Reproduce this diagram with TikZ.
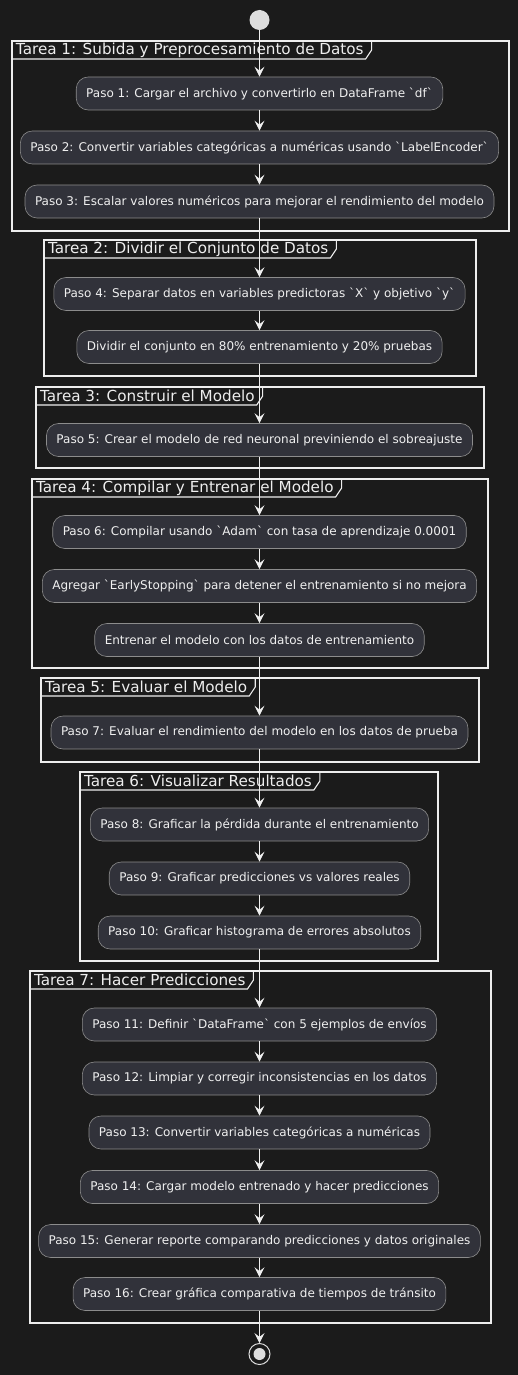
\documentclass[tikz,border=0pt]{standalone}
\usepackage{fontspec}
\setmainfont{DejaVu Sans}
\usetikzlibrary{arrows.meta,calc}
\definecolor{bgdark}{HTML}{1B1B1B}
\definecolor{boxfill}{HTML}{31323A}
\definecolor{boxline}{HTML}{8C8C8C}
\definecolor{txtlight}{HTML}{F0F0F0}
\definecolor{framewhite}{HTML}{EEEEEE}
\definecolor{dotgray}{HTML}{DDDDDD}
\newcommand{\bqt}{\textasciigrave}
\begin{document}
\begin{tikzpicture}[
    x=1pt, y=-1pt,
    font=\fontsize{12}{14}\selectfont,
    frame/.style={draw=framewhite, line width=1.3pt, inner sep=0pt, outer sep=0pt},
    tarea/.style={anchor=north west, text=framewhite, font=\fontsize{15.2}{17}\selectfont, inner xsep=4pt, inner ysep=0pt, minimum height=18pt, outer sep=0pt},
    tab/.style={draw=framewhite, line width=1.1pt},
    paso/.style={draw=boxline, fill=boxfill, text=txtlight, rounded corners=12pt, minimum height=33pt, inner xsep=10pt, inner ysep=0pt, line width=0.6pt},
    arr/.style={-{Stealth[length=10pt,width=10pt,inset=4pt]}, draw=txtlight, fill=txtlight, line width=0.8pt},
    startdot/.style={circle, fill=dotgray, minimum size=20pt, inner sep=0pt},
    enddot/.style={circle, draw=dotgray, line width=1pt, minimum size=21pt, inner sep=0pt,
        path picture={\fill[dotgray] (path picture bounding box.center) circle (6pt);}},
]
    \fill[bgdark] (0,0) rectangle (518,1375);
    \useasboundingbox (0,0) rectangle (518,1375);

    % ============= Frames =============
    \node[frame, minimum width=497pt, minimum height=190pt] (f1) at (260.5,136) {};
    \node[tarea] (t1) at (f1.north west) {Tarea 1: Subida y Preprocesamiento de Datos};
    \draw[tab] (t1.south west) -- ([xshift=-2pt]t1.south east) -- ([xshift=4pt]t1.east) -- ([xshift=4pt]t1.north east);

    \node[frame, minimum width=432pt, minimum height=136pt] (f2) at (260,308) {};
    \node[tarea] (t2) at (f2.north west) {Tarea 2: Dividir el Conjunto de Datos};
    \draw[tab] (t2.south west) -- ([xshift=-2pt]t2.south east) -- ([xshift=4pt]t2.east) -- ([xshift=4pt]t2.north east);

    \node[frame, minimum width=448pt, minimum height=81pt] (f3) at (260,427.5) {};
    \node[tarea] (t3) at (f3.north west) {Tarea 3: Construir el Modelo};
    \draw[tab] (t3.south west) -- ([xshift=-2pt]t3.south east) -- ([xshift=4pt]t3.east) -- ([xshift=4pt]t3.north east);

    \node[frame, minimum width=456pt, minimum height=189pt] (f4) at (260,573.5) {};
    \node[tarea] (t4) at (f4.north west) {Tarea 4: Compilar y Entrenar el Modelo};
    \draw[tab] (t4.south west) -- ([xshift=-2pt]t4.south east) -- ([xshift=4pt]t4.east) -- ([xshift=4pt]t4.north east);

    \node[frame, minimum width=438pt, minimum height=84pt] (f5) at (260,720) {};
    \node[tarea] (t5) at (f5.north west) {Tarea 5: Evaluar el Modelo};
    \draw[tab] (t5.south west) -- ([xshift=-2pt]t5.south east) -- ([xshift=4pt]t5.east) -- ([xshift=4pt]t5.north east);

    \node[frame, minimum width=358pt, minimum height=189pt] (f6) at (259,866.5) {};
    \node[tarea] (t6) at (f6.north west) {Tarea 6: Visualizar Resultados};
    \draw[tab] (t6.south west) -- ([xshift=-2pt]t6.south east) -- ([xshift=4pt]t6.east) -- ([xshift=4pt]t6.north east);

    \node[frame, minimum width=461pt, minimum height=352pt] (f7) at (260.5,1147) {};
    \node[tarea] (t7) at (f7.north west) {Tarea 7: Hacer Predicciones};
    \draw[tab] (t7.south west) -- ([xshift=-2pt]t7.south east) -- ([xshift=4pt]t7.east) -- ([xshift=4pt]t7.north east);

    % ============= Steps =============
    \node[startdot] (start) at (259.5,20) {};
    \node[paso] (p1) at (259.5,93.5) {Paso 1: Cargar el archivo y convertirlo en DataFrame \bqt df\bqt};
    \node[paso] (p2) at (259.5,147.5) {Paso 2: Convertir variables categóricas a numéricas usando \bqt LabelEncoder\bqt};
    \node[paso] (p3) at (259.5,201.5) {Paso 3: Escalar valores numéricos para mejorar el rendimiento del modelo};
    \node[paso] (p4) at (259.5,294) {Paso 4: Separar datos en variables predictoras \bqt X\bqt{} y objetivo \bqt y\bqt};
    \node[paso] (p4b) at (259.5,347) {Dividir el conjunto en 80\% entrenamiento y 20\% pruebas};
    \node[paso] (p5) at (259.5,440) {Paso 5: Crear el modelo de red neuronal previniendo el sobreajuste};
    \node[paso] (p6) at (259.5,532) {Paso 6: Compilar usando \bqt Adam\bqt{} con tasa de aprendizaje 0.0001};
    \node[paso] (p6b) at (259.5,586) {Agregar \bqt EarlyStopping\bqt{} para detener el entrenamiento si no mejora};
    \node[paso] (p6c) at (259.5,640) {Entrenar el modelo con los datos de entrenamiento};
    \node[paso] (p7) at (259.5,732.5) {Paso 7: Evaluar el rendimiento del modelo en los datos de prueba};
    \node[paso] (p8) at (259.5,824.5) {Paso 8: Graficar la pérdida durante el entrenamiento};
    \node[paso] (p9) at (259.5,878.5) {Paso 9: Graficar predicciones vs valores reales};
    \node[paso] (p10) at (259.5,932.5) {Paso 10: Graficar histograma de errores absolutos};
    \node[paso] (p11) at (259.5,1024.5) {Paso 11: Definir \bqt DataFrame\bqt{} con 5 ejemplos de envíos};
    \node[paso] (p12) at (259.5,1078.5) {Paso 12: Limpiar y corregir inconsistencias en los datos};
    \node[paso] (p13) at (259.5,1132.5) {Paso 13: Convertir variables categóricas a numéricas};
    \node[paso] (p14) at (259.5,1187) {Paso 14: Cargar modelo entrenado y hacer predicciones};
    \node[paso] (p15) at (259.5,1241) {Paso 15: Generar reporte comparando predicciones y datos originales};
    \node[paso] (p16) at (259.5,1294) {Paso 16: Crear gráfica comparativa de tiempos de tránsito};
    \node[enddot] (stop) at (259.5,1354) {};

    % ============= Flow =============
    \draw[arr] (start) -- (p1);
    \draw[arr] (p1) -- (p2);
    \draw[arr] (p2) -- (p3);
    \draw[arr] (p3) -- (p4);
    \draw[arr] (p4) -- (p4b);
    \draw[arr] (p4b) -- (p5);
    \draw[arr] (p5) -- (p6);
    \draw[arr] (p6) -- (p6b);
    \draw[arr] (p6b) -- (p6c);
    \draw[arr] (p6c) -- (p7);
    \draw[arr] (p7) -- (p8);
    \draw[arr] (p8) -- (p9);
    \draw[arr] (p9) -- (p10);
    \draw[arr] (p10) -- (p11);
    \draw[arr] (p11) -- (p12);
    \draw[arr] (p12) -- (p13);
    \draw[arr] (p13) -- (p14);
    \draw[arr] (p14) -- (p15);
    \draw[arr] (p15) -- (p16);
    \draw[arr] (p16) -- (stop);
\end{tikzpicture}
\end{document}
